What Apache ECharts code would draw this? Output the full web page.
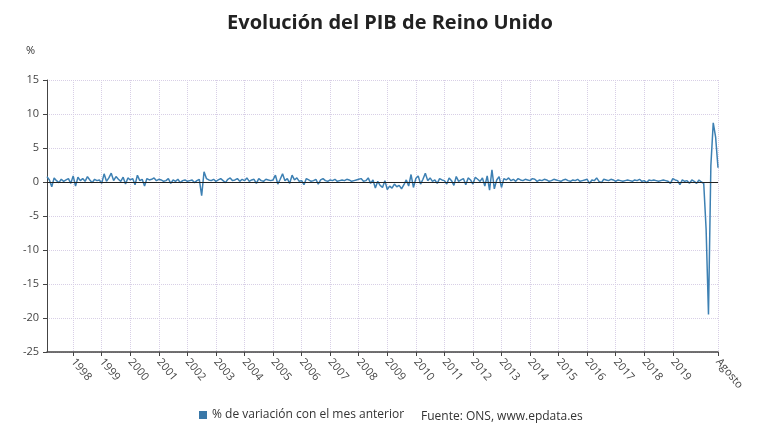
<!DOCTYPE html>
<html lang="es">
<head>
<meta charset="UTF-8" />
<title>PIB Reino Unido</title>
<script src="https://cdn.jsdelivr.net/npm/echarts@6/dist/echarts.min.js"></script>
<style>body{margin:0;background:#fff}</style>
</head>
<body>
<div id="main" style="width:780px;height:440px;"></div>
<script type="text/javascript">
// % de variación mensual, feb 1997 - ago 2020
var y1997 = [0.8, 0.3, -0.7, 0.6, 0.2, -0.1, 0.4, 0.1, 0.3, 0.5, -0.2]
var y1998 = [0.9, -0.6, 0.7, 0.2, 0.5, 0.1, 0.8, 0.3, -0.1, 0.4, 0.2, 0.3]
var y1999 = [-0.2, 1.2, 0.1, 0.6, 1.3, 0.2, 0.8, 0.4, 0.1, 0.7, -0.3, 0.6]
var y2000 = [0.3, 0.5, -0.4, 1.0, 0.2, 0.4, -0.6, 0.5, 0.3, 0.4, 0.6, 0.2]
var y2001 = [0.4, 0.3, 0.1, 0.2, 0.5, -0.2, 0.3, 0.1, 0.4, -0.1, 0.2, 0.3]
var y2002 = [0.1, 0.2, 0.3, -0.1, 0.2, 0.4, -2.0, 1.5, 0.5, 0.3, 0.2, 0.4]
var y2003 = [0.1, 0.3, 0.5, 0.2, -0.1, 0.4, 0.6, 0.2, 0.3, 0.5, 0.1, 0.4]
var y2004 = [0.2, 0.6, 0.1, 0.3, 0.4, -0.2, 0.5, 0.2, 0.1, 0.4, 0.3, 0.2]
var y2005 = [0.3, 1.0, -0.3, 0.4, 1.2, 0.2, 0.5, -0.2, 1.0, 0.3, 0.6, 0.1]
var y2006 = [0.2, -0.4, 0.5, 0.3, 0.1, 0.2, 0.4, -0.3, 0.3, 0.5, 0.2, 0.1]
var y2007 = [0.3, 0.2, 0.4, 0.1, 0.2, 0.3, 0.2, 0.4, 0.3, 0.1, 0.2, 0.3]
var y2008 = [0.4, 0.5, 0.1, 0.2, 0.6, -0.2, 0.3, -0.9, 0.1, -0.5, -0.8, 0.2]
var y2009 = [-1.1, -0.6, -0.9, -0.3, -0.7, -0.5, -1.0, -0.4, 0.3, -0.6, 1.1, -0.8]
var y2010 = [0.5, 0.9, -0.3, 0.4, 1.3, 0.2, 0.6, 0.1, 0.3, -0.2, 0.5, 0.3]
var y2011 = [0.2, -0.3, 0.6, 0.2, -0.5, 0.8, 0.1, 0.3, 0.5, -0.4, 0.6, 0.3]
var y2012 = [-0.3, 0.7, 0.4, 0.1, 0.6, -0.6, 0.9, -1.2, 1.8, -1.0, 0.3, 0.8]
var y2013 = [-0.8, 0.5, 0.3, 0.6, 0.2, 0.4, 0.1, 0.5, 0.3, 0.2, 0.4, 0.3]
var y2014 = [0.2, 0.5, 0.4, 0.1, 0.3, 0.2, 0.4, 0.3, 0.1, 0.2, 0.4, 0.3]
var y2015 = [0.2, 0.1, 0.3, 0.4, 0.2, 0.1, 0.3, 0.2, 0.4, 0.1, 0.2, 0.3]
var y2016 = [0.4, -0.2, 0.3, 0.2, 0.6, 0.1, -0.1, 0.4, 0.3, 0.2, 0.4, 0.3]
var y2017 = [0.1, 0.3, 0.2, 0.1, 0.2, 0.3, 0.2, 0.1, 0.3, 0.2, 0.4, 0.1]
var y2018 = [0.2, -0.1, 0.3, 0.2, 0.3, 0.2, 0.1, 0.2, 0.3, 0.2, 0.1, -0.2]
var y2019 = [0.5, 0.3, 0.2, -0.4, 0.3, 0.1, 0.2, -0.2, 0.3, 0.1, -0.2, 0.3]
var y2020 = [0.0, -0.2, -6.9, -19.5, 2.4, 8.7, 6.6, 2.1]

var yearsData = [y1997, y1998, y1999, y2000, y2001, y2002, y2003, y2004, y2005, y2006, y2007, y2008,
  y2009, y2010, y2011, y2012, y2013, y2014, y2015, y2016, y2017, y2018, y2019, y2020]
var yTicks = [-25, -20, -15, -10, -5, 0, 5, 10, 15]

// categorías "AAAA-MM"
var categories = []
var values = []
yearsData.forEach(function (arr, i) {
  var year = 1997 + i
  arr.forEach(function (v, j) {
    var m = year === 1997 ? 13 - arr.length + j : j + 1
    categories.push(year + '-' + (m < 10 ? '0' + m : m))
    values.push(v)
  })
})
var last = categories.length - 1

function isTick(idx) {
  return (categories[idx].slice(5) === '01' && categories[idx].slice(0, 4) !== '2020') || idx === last
}

var myChart = echarts.init(document.getElementById('main'))
var font = 'Open Sans'
var option = {
  animation: false,
  textStyle: { fontFamily: font },
  title: {
    text: 'Evolución del PIB de Reino Unido',
    left: 'center', top: 8,
    textStyle: { fontSize: 20, fontWeight: 'bold', color: '#222', fontFamily: font }
  },
  legend: {
    bottom: 14, left: 194,
    icon: 'rect', itemWidth: 8, itemHeight: 8,
    textStyle: { fontSize: 12, color: '#333' },
    data: ['% de variación con el mes anterior']
  },
  graphic: [
    { type: 'text', left: 421, bottom: 17, style: { text: 'Fuente: ONS, www.epdata.es', font: '12px "Open Sans"', fill: '#333' } },
    { type: 'text', left: 26, top: 45, style: { text: '%', font: '11px "Open Sans"', fill: '#333' } }
  ],
  grid: { left: 47, right: 62, top: 80, bottom: 88 },
  xAxis: {
    type: 'category',
    data: categories,
    boundaryGap: false,
    axisLine: { onZero: false, lineStyle: { color: '#444', width: 1.5 } },
    axisTick: { interval: function (i) { return isTick(i) }, length: 4, lineStyle: { color: '#444' } },
    splitLine: { show: true, interval: function (i) { return isTick(i) }, lineStyle: { color: '#d8cfe6', type: 'dotted' } },
    axisLabel: {
      interval: function (i) { return isTick(i) },
      rotate: -50,
      fontSize: 11, color: '#444', margin: 8,
      formatter: function (v, i) { return i === last ? 'Agosto' : v.slice(0, 4) }
    }
  },
  yAxis: {
    type: 'value',
    min: yTicks[0], max: yTicks[yTicks.length - 1], interval: 5,
    axisLine: { show: true, lineStyle: { color: '#444' } },
    axisTick: { show: true, length: 4 },
    splitLine: { lineStyle: { color: '#d8cfe6', type: 'dotted' } },
    axisLabel: { fontSize: 11, color: '#444' }
  },
  series: [{
    name: '% de variación con el mes anterior',
    type: 'line',
    data: values,
    showSymbol: false,
    itemStyle: { color: '#3a78a8' },
    lineStyle: { color: '#3d80b3', width: 1.5 },
    markLine: {
      silent: true, symbol: 'none', label: { show: false },
      lineStyle: { color: '#222', type: 'solid', width: 1.2 },
      data: [{ yAxis: 0 }]
    }
  }]
}
myChart.setOption(option)
</script>
</body>
</html>
